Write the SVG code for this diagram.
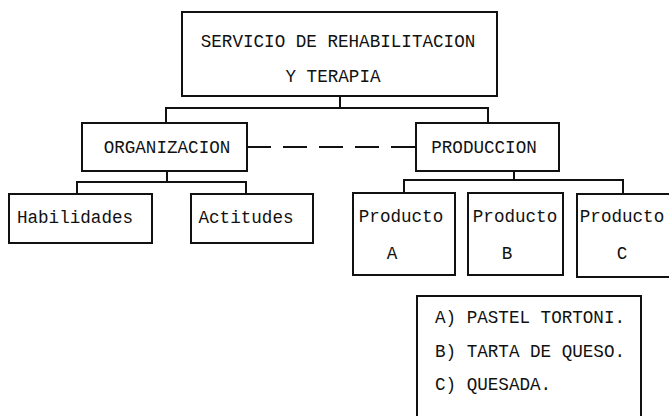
<svg xmlns="http://www.w3.org/2000/svg" width="669" height="416" viewBox="0 0 669 416">
<style>
.box{fill:#fff;stroke:#111;stroke-width:2}
.ln{fill:none;stroke:#111;stroke-width:2}
.dash{fill:none;stroke:#111;stroke-width:2;stroke-dasharray:24 12}
text{font-family:"Liberation Mono","DejaVu Sans Mono",monospace;font-size:17.6px;fill:#111}
.m{text-anchor:middle}
</style>
<rect width="669" height="416" fill="#fff"/>
<g id="connectors">
<path class="ln" d="M340 96 V108 M166 123 V108 H488 V123"/>
<path class="dash" d="M247 147 H416"/>
<path class="ln" d="M167 171 V182 M77 194 V182 H246 V194"/>
<path class="ln" d="M514 171 V180 M404 193 V180 H623 V194"/>
</g>
<g id="n-servicio">
<rect class="box" x="182" y="12" width="315" height="84"/>
<text class="m" x="338" y="47">SERVICIO DE REHABILITACION</text>
<text class="m" x="333" y="82">Y TERAPIA</text>
</g>
<g id="n-organizacion">
<rect class="box" x="82" y="123" width="165" height="48"/>
<text class="m" x="167" y="153">ORGANIZACION</text>
</g>
<g id="n-produccion">
<rect class="box" x="416" y="123" width="143" height="48"/>
<text class="m" x="484" y="153">PRODUCCION</text>
</g>
<g id="n-habilidades">
<rect class="box" x="9" y="194" width="143" height="49"/>
<text class="m" x="75" y="223">Habilidades</text>
</g>
<g id="n-actitudes">
<rect class="box" x="191" y="194" width="122" height="49"/>
<text class="m" x="246" y="223">Actitudes</text>
</g>
<g id="n-productoA">
<rect class="box" x="353" y="193" width="102" height="82"/>
<text class="m" x="401" y="222">Producto</text>
<text class="m" x="392" y="259">A</text>
</g>
<g id="n-productoB">
<rect class="box" x="468" y="193" width="95" height="82"/>
<text class="m" x="515" y="222">Producto</text>
<text class="m" x="507" y="259">B</text>
</g>
<g id="n-productoC">
<rect class="box" x="577" y="194" width="100" height="83"/>
<text class="m" x="622" y="222">Producto</text>
<text class="m" x="622" y="259">C</text>
</g>
<g id="n-leyenda">
<rect class="box" x="417" y="296" width="224" height="130"/>
<text x="435" y="323">A) PASTEL TORTONI.</text>
<text x="435" y="357">B) TARTA DE QUESO.</text>
<text x="435" y="390">C) QUESADA.</text>
</g>
</svg>
